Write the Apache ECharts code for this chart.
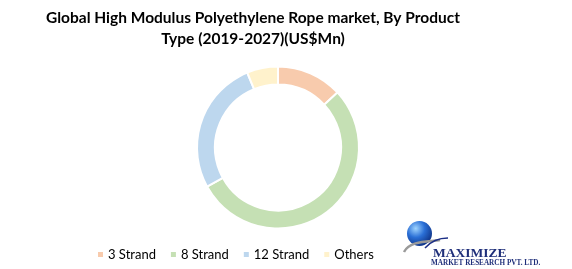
<!DOCTYPE html>
<html>
<head>
<meta charset="utf-8">
<script src="https://cdn.jsdelivr.net/npm/echarts@6/dist/echarts.min.js"></script>
<style>
html,body{margin:0;padding:0;background:#fff;}
#main{width:572px;height:269px;}
</style>
</head>
<body>
<div id="main"></div>
<script>
const titleLines = ['Global High Modulus Polyethylene Rope market, By Product', 'Type (2019-2027)(US$Mn)'];
const categories = ['3 Strand', '8 Strand', '12 Strand', 'Others'];
const values = [13.1, 53.9, 26.8, 6.2];
const colors = ['#F8CBAD', '#C5E0B4', '#BDD7EE', '#FFF2CC'];

const chart = echarts.init(document.getElementById('main'), null, {renderer: 'canvas'});
chart.setOption({
  animation: false,
  color: colors,
  legend: {
    data: categories,
    left: 96,
    top: 248,
    padding: 0,
    icon: 'rect',
    itemWidth: 7,
    itemHeight: 7,
    itemGap: 13,
    textStyle: {fontFamily: 'Lato', fontSize: 13, color: '#000', padding: [0, 0, 0, -1]}
  },
  graphic: [
    {type: 'text', x: 253, y: 7, style: {
      text: titleLines.join('\n'), textAlign: 'center', fill: '#000',
      font: 'bold 15.5px Lato', lineHeight: 21
    }},
    {type: 'circle', shape: {cx: 419.5, cy: 233.5, r: 12.5}, style: {
      fill: {type: 'radial', x: 0.35, y: 0.3, r: 0.8, colorStops: [
        {offset: 0, color: '#9fd4ff'}, {offset: 0.45, color: '#2a6fd6'}, {offset: 1, color: '#0b2a7a'}]}
    }},
    {type: 'bezierCurve', shape: {x1: 404, y1: 252, cpx1: 410, cpy1: 240, cpx2: 430, cpy2: 242, x2: 440, y2: 240}, style: {stroke: '#9a9a9a', lineWidth: 2.5, fill: null}},
    {type: 'bezierCurve', shape: {x1: 425, y1: 248, cpx1: 432, cpy1: 240, cpx2: 440, cpy2: 238, x2: 448, y2: 238}, style: {stroke: '#1c2f86', lineWidth: 1.5, fill: null}},
    {type: 'text', x: 433, y: 247, style: {text: 'MAXIMIZE', font: 'bold 13.5px "Liberation Serif"', fill: '#1f2f7a'}},
    {type: 'text', x: 431, y: 259.5, style: {text: 'MARKET RESEARCH PVT. LTD.', font: 'bold 7.2px "Liberation Serif"', fill: '#1f2f7a'}}
  ],
  series: [{
    type: 'pie',
    center: [278, 147.5],
    radius: [63, 81],
    startAngle: 90,
    clockwise: true,
    label: {show: false},
    labelLine: {show: false},
    itemStyle: {borderColor: '#fff', borderWidth: 2},
    data: categories.map((c, i) => ({name: c, value: values[i]}))
  }]
});
</script>
</body>
</html>
